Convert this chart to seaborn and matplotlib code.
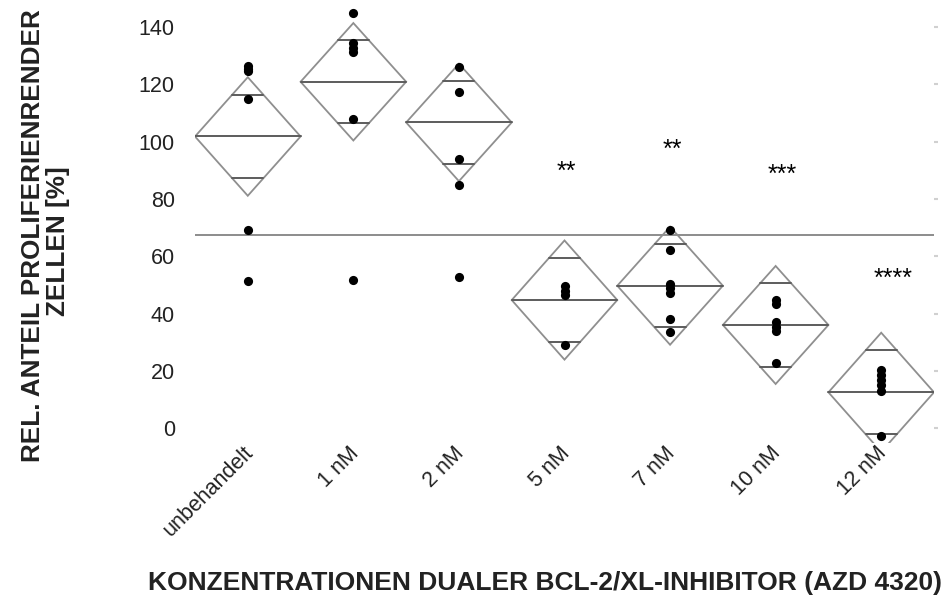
import numpy as np
import pandas as pd
import matplotlib
matplotlib.use("Agg")
import matplotlib.pyplot as plt
import matplotlib.transforms as mtransforms
from matplotlib.patches import Polygon
import seaborn as sns

# ---------------- data ----------------
groups = ["unbehandelt", "1 nM", "2 nM", "5 nM", "7 nM", "10 nM", "12 nM"]
vals_unbehandelt = [126.5, 125.5, 124.5, 115, 69, 51.5]
vals_1nM = [145, 134.3, 132.6, 131.2, 108, 51.7]
vals_2nM = [125.9, 117.4, 93.9, 84.8, 52.8]
vals_5nM = [49.6, 48.0, 46.4, 29]
vals_7nM = [69, 62, 50.3, 48.9, 47.3, 38, 33.4]
vals_10nM = [44.7, 43.3, 37.1, 35.4, 33.9, 22.8]
vals_12nM = [20.4, 18.6, 16.8, 15.0, 13.1, -2.8]
all_vals = [vals_unbehandelt, vals_1nM, vals_2nM, vals_5nM, vals_7nM, vals_10nM, vals_12nM]

diamond_means = [101.8, 120.9, 106.7, 44.7, 49.7, 36.0, 12.5]
diamond_halfwidths = [20.7, 20.5, 20.5, 20.8, 20.6, 20.6, 20.8]
reference_line = 67.5

star_labels = ["", "", "", "**", "**", "***", "****"]
star_y = [None, None, None, 86.9, 94.6, 85.9, 49.6]

yticks = [0, 20, 40, 60, 80, 100, 120, 140]

df = pd.DataFrame({
    "group": [g for g, v in zip(groups, all_vals) for _ in v],
    "value": [x for v in all_vals for x in v],
})

# ---------------- figure ----------------
sns.set_theme(style="white")
plt.rcParams["font.family"] = ["Liberation Sans", "DejaVu Sans"]

W, H = 948, 603
fig = plt.figure(figsize=(W / 100, H / 100), dpi=100)
ax_left, ax_right, ax_top, ax_bottom = 195, 934, 5, 443
ax = fig.add_axes([ax_left / W, 1 - ax_bottom / H,
                   (ax_right - ax_left) / W, (ax_bottom - ax_top) / H])

diamond_color = "#8f8f8f"
mean_color = "#5c5c5c"

# reference line
ax.axhline(reference_line, color="#8c8c8c", lw=1.4, zorder=1)

# diamonds
k = 1 / np.sqrt(2)
for i, (m, h) in enumerate(zip(diamond_means, diamond_halfwidths)):
    poly = Polygon([(i - 0.5, m), (i, m + h), (i + 0.5, m), (i, m - h)],
                   closed=True, fill=False, edgecolor=diamond_color, lw=1.3, zorder=2)
    ax.add_patch(poly)
    ax.plot([i - 0.5, i + 0.5], [m, m], color=mean_color, lw=1.4, zorder=3)
    half = 0.5 * (1 - k)
    for s in (1, -1):
        ax.plot([i - half, i + half], [m + s * h * k] * 2, color=mean_color, lw=1.4, zorder=3)

# points
sns.stripplot(data=df, x="group", y="value", order=groups, jitter=False,
              color="black", size=6.6, linewidth=0, ax=ax, zorder=4)

# significance stars
for i, (lab, y) in enumerate(zip(star_labels, star_y)):
    if lab:
        ax.text(i - 0.075, y, lab, ha="left", va="baseline", fontsize=18, color="black")

ax.set_xlim(-0.5, len(groups) - 0.5)
ax.set_ylim(-5.2, 147.7)
ax.set_yticks(yticks)
ax.set_yticklabels([str(t) for t in yticks], fontsize=15.5, color="#222222")
ax.tick_params(axis="y", left=False, right=True, length=3, width=1.5,
               color="#d0d0d0", labelleft=True, labelright=False, pad=11.5)
ax.set_xticks(range(len(groups)))
ax.set_xticklabels(groups, rotation=45, ha="right", va="center",
                   rotation_mode="anchor", fontsize=15.5, color="#222222")
ax.tick_params(axis="x", bottom=False, length=0, pad=5)
offset = mtransforms.ScaledTranslation(0.02, 0, fig.dpi_scale_trans)
for lbl in ax.get_xticklabels():
    lbl.set_transform(lbl.get_transform() + offset)

for sp in ax.spines.values():
    sp.set_visible(False)
ax.set_xlabel("")
ax.set_ylabel("")

# axis titles
fig.text(33 / W, 1 - 236 / H, "REL. ANTEIL PROLIFERIENRENDER", rotation=90,
         ha="center", va="center", fontsize=18.8, fontweight="bold", color="#222222")
fig.text(58 / W, 1 - 241 / H, "ZELLEN [%]", rotation=90,
         ha="center", va="center", fontsize=18.8, fontweight="bold", color="#222222")
fig.text(545 / W, 1 - 583 / H, "KONZENTRATIONEN DUALER BCL-2/XL-INHIBITOR (AZD 4320)",
         ha="center", va="center", fontsize=19, fontweight="bold", color="#222222")

fig.savefig("out.png", dpi=100)
